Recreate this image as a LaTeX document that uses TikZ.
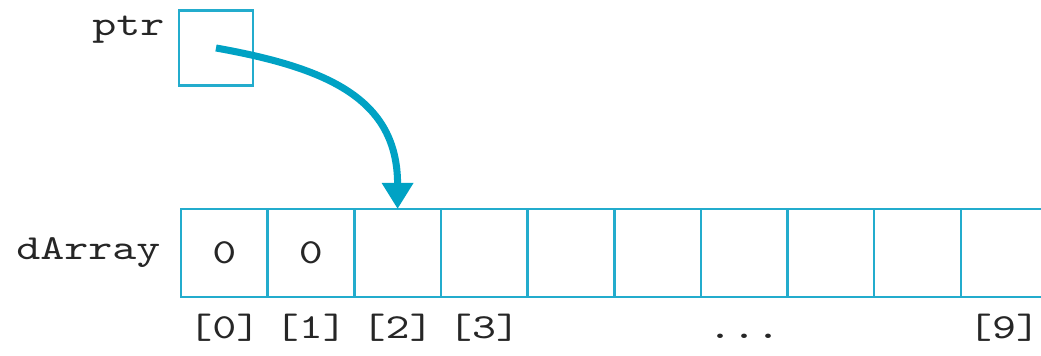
\documentclass[tikz,border=0pt]{standalone}
\usepackage{fontspec}
\setmonofont[FakeStretch=1.3]{lmmono10-regular.otf}
\usepackage{tikz}
\usetikzlibrary{positioning,arrows.meta}
\definecolor{boxcyan}{RGB}{35,172,205}
\definecolor{ptrcyan}{RGB}{0,162,196}
\tikzset{%
  arrow/.style = { -{Triangle[width = 0.3cm, length = 0.26cm]}, line width = 2pt,
                   draw = #1 },
  cell/.style  = { draw = #1, line width = 0.75pt, outer sep = 0pt, inner sep = 0pt,
                   minimum width = 0.866cm, minimum height = 0.88cm },
  mono/.style  = { font = \ttfamily\fontsize{10}{12}\selectfont, text = black!85,
                   inner sep = 0pt },
  idx/.style   = { mono, text height = 0.26cm, text depth = 0.09cm }
}

\begin{document}
\begin{tikzpicture}[x = 0.01cm, y = 0.01cm]
  \useasboundingbox (0,0) rectangle (1041,356);
  % pointer
  \node(ptr)[cell=boxcyan, minimum width = 0.74cm, minimum height = 0.75cm] at (216,308) {};
  \node(pname)[mono, anchor = base east] at ([xshift=-0.14cm, yshift=-0.25cm]ptr.north west) {ptr};
  % array cells
  \node(c0)[cell=boxcyan, mono] at (224.3,103) {0};
  \node(c1)[cell=boxcyan, mono, right = 0pt of c0] {0};
  \node(c2)[cell=boxcyan, right = 0pt of c1] {};
  \node(c3)[cell=boxcyan, right = 0pt of c2] {};
  \node(c4)[cell=boxcyan, right = 0pt of c3] {};
  \node(c5)[cell=boxcyan, right = 0pt of c4] {};
  \node(c6)[cell=boxcyan, right = 0pt of c5] {};
  \node(c7)[cell=boxcyan, right = 0pt of c6] {};
  \node(c8)[cell=boxcyan, right = 0pt of c7] {};
  \node(c9)[cell=boxcyan, right = 0pt of c8] {};
  \node(aname)[mono, left = 0.2cm of c0] {dArray};
  % indices
  \node(i0)[idx, below = 0.15cm of c0] {[0]};
  \node(i1)[idx, below = 0.15cm of c1] {[1]};
  \node(i2)[idx, below = 0.15cm of c2] {[2]};
  \node(i3)[idx, below = 0.15cm of c3] {[3]};
  \node(dots)[idx, below = 0.15cm of c6] {...};
  \node(i9)[idx, below = 0.15cm of c9] {[9]};
  \draw[arrow=ptrcyan] (ptr.center) .. controls +(112,-20) and +(0,110) .. (c2.north);
\end{tikzpicture}
\end{document}
